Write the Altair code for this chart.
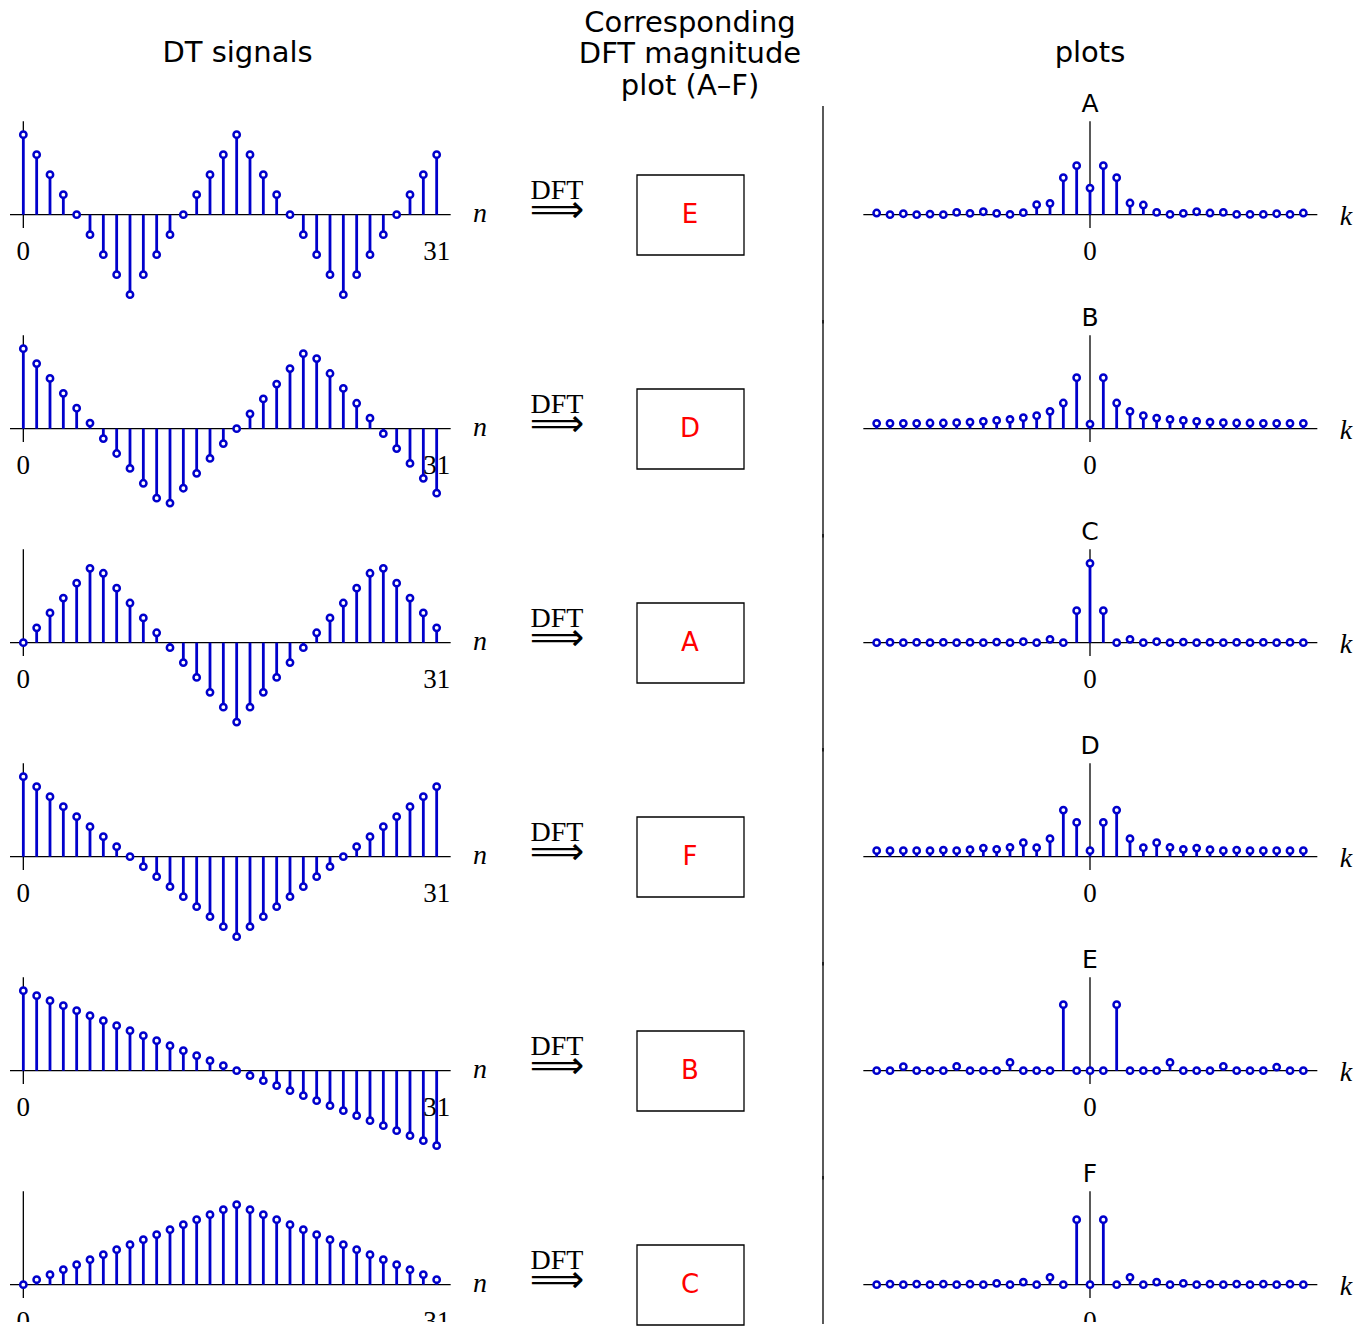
import altair as alt
import pandas as pd

# ---------------- data ----------------
n_vals = list(range(32))
k_vals = list(range(-16, 17))

sig1 = [1, .75, .5, .25, 0, -.25, -.5, -.75, -1, -.75, -.5, -.25, 0, .25, .5, .75,
        1, .75, .5, .25, 0, -.25, -.5, -.75, -1, -.75, -.5, -.25, 0, .25, .5, .75]
sig2 = [1.0, 0.814, 0.628, 0.442, 0.256, 0.07, -0.124, -0.31, -0.496, -0.682, -0.868, -0.93,
        -0.744, -0.558, -0.372, -0.186, 0.0, 0.186, 0.372, 0.558, 0.752, 0.938, 0.876, 0.69,
        0.504, 0.318, 0.132, -0.062, -0.248, -0.434, -0.62, -0.806]
sig3 = [0, .186, .372, .558, .744, .93, .868, .682, .496, .31, .124, -.062, -.248, -.434, -.62, -.806,
        -.992, -.806, -.62, -.434, -.248, -.062, .124, .31, .496, .682, .868, .93, .744, .558, .372, .186]
sig4 = [1, .875, .75, .625, .5, .375, .25, .125, 0, -.125, -.25, -.375, -.5, -.625, -.75, -.875,
        -1, -.875, -.75, -.625, -.5, -.375, -.25, -.125, 0, .125, .25, .375, .5, .625, .75, .875]
sig5 = [1, .9375, .875, .8125, .75, .6875, .625, .5625, .5, .4375, .375, .3125, .25, .1875, .125, .0625,
        0, -.0625, -.125, -.1875, -.25, -.3125, -.375, -.4375, -.5, -.5625, -.625, -.6875, -.75, -.8125, -.875, -.9375]
sig6 = [0, .0625, .125, .1875, .25, .3125, .375, .4375, .5, .5625, .625, .6875, .75, .8125, .875, .9375,
        1, .9375, .875, .8125, .75, .6875, .625, .5625, .5, .4375, .375, .3125, .25, .1875, .125, .0625]
signals = [sig1, sig2, sig3, sig4, sig5, sig6]

answers = ["E", "D", "A", "F", "B", "C"]
dft_labels = ["A", "B", "C", "D", "E", "F"]

magA = [0.021, 0.0, 0.012, 0.0, 0.008, 0.0, 0.029, 0.017, 0.037, 0.017, 0.004, 0.025, 0.125, 0.142, 0.462, 0.613,
        0.333, 0.613, 0.462, 0.146, 0.121, 0.029, 0.004, 0.017, 0.037, 0.021, 0.029, 0.004, 0.004, 0.004, 0.012, 0.004, 0.021]
magB = [0.067, 0.067, 0.067, 0.067, 0.071, 0.071, 0.075, 0.083, 0.092, 0.104, 0.117, 0.138, 0.162, 0.217, 0.321, 0.637,
        0.058, 0.637, 0.321, 0.217, 0.162, 0.133, 0.117, 0.104, 0.092, 0.083, 0.075, 0.071, 0.071, 0.067, 0.067, 0.067, 0.067]
magC = [0, 0.004, 0, 0.004, 0, 0.004, 0, 0.004, 0, 0.008, 0, 0.012, 0, 0.042, 0, 0.4,
        0.992, 0.4, 0, 0.042, 0, 0.012, 0, 0.008, 0, 0.004, 0, 0.004, 0, 0.004, 0, 0.004, 0]
magD = [0.075, 0.075, 0.075, 0.075, 0.075, 0.083, 0.075, 0.087, 0.108, 0.092, 0.117, 0.175, 0.112, 0.225, 0.583, 0.429,
        0.075, 0.429, 0.583, 0.225, 0.112, 0.175, 0.117, 0.092, 0.108, 0.087, 0.075, 0.083, 0.075, 0.075, 0.075, 0.075, 0.075]
magE = [0, 0, 0.05, 0, 0, 0, 0.054, 0, 0, 0, 0.104, 0, 0, 0, 0.825, 0,
        0, 0, 0.825, 0, 0, 0, 0.104, 0, 0, 0, 0.054, 0, 0, 0, 0.045, 0, 0]
magF = [0, 0.008, 0, 0.008, 0, 0.008, 0, 0.008, 0, 0.017, 0, 0.033, 0, 0.092, 0, 0.8125,
        0, 0.8125, 0, 0.092, 0, 0.033, 0, 0.017, 0, 0.008, 0, 0.008, 0, 0.008, 0, 0.008, 0]
dft_mags = [magA, magB, magC, magD, magE, magF]

left_ticks = [0, 31]
left_tick_labels = ["0", "31"]
right_ticks = [0]
right_tick_labels = ["0"]

header_left = ["DT signals"]
header_mid = ["Corresponding", "DFT magnitude", "plot (A\u2013F)"]
header_right = ["plots"]

# ---------------- layout / style ----------------
BLUE = "#0000cc"
SERIF = "Liberation Serif"
SANS = "DejaVu Sans"
UNIT = 80.0
Y_TOP = 106.7 / UNIT
W_L, W_M, W_R = 492, 323, 535
H_HEAD, H_ROW, H_LAST = 100, 213.4, 144


def one():
    return alt.Chart(pd.DataFrame({"_": [0]}))


def stem_layers(df, xfield, xs, ys):
    stems = alt.Chart(df).mark_rule(color=BLUE, strokeWidth=2.8).encode(
        x=alt.X(f"{xfield}:Q", scale=xs, axis=None),
        y=alt.Y("z:Q", scale=ys, axis=None),
        y2="v:Q",
    )
    pts = alt.Chart(df).mark_point(shape="circle", filled=True, fill="white", stroke=BLUE,
                                   strokeWidth=2.5, size=40, opacity=1).encode(
        x=alt.X(f"{xfield}:Q", scale=xs, axis=None),
        y=alt.Y("v:Q", scale=ys, axis=None),
    )
    return stems, pts


def axes_layers(xs, ys, x0, x1):
    h = one().mark_rule(color="black", strokeWidth=1.3).encode(
        x=alt.XDatum(x0, scale=xs, axis=None), x2=alt.X2Datum(x1),
        y=alt.YDatum(0, scale=ys, axis=None))
    v = one().mark_rule(color="black", strokeWidth=1.3).encode(
        x=alt.XDatum(0, scale=xs, axis=None),
        y=alt.YDatum(-0.167, scale=ys, axis=None), y2=alt.Y2Datum(1.167))
    return h, v


def left_panel(sig, h):
    xs = alt.Scale(domain=[-1.15, 35.75], nice=False, zero=False)
    ys = alt.Scale(domain=[Y_TOP - h / UNIT, Y_TOP], nice=False, zero=False)
    df = pd.DataFrame({"n": n_vals, "v": sig, "z": 0.0})
    ah, av = axes_layers(xs, ys, -1.0, 32.05)
    stems, pts = stem_layers(df, "n", xs, ys)
    ticks = alt.Chart(pd.DataFrame({"n": left_ticks, "lab": left_tick_labels})).mark_text(
        font=SERIF, fontSize=27, baseline="alphabetic", align="center", clip=True, color="black"
    ).encode(x=alt.X("n:Q", scale=xs, axis=None), y=alt.YDatum(-0.566, scale=ys, axis=None), text="lab:N")
    nlab = one().mark_text(text="n", font=SERIF, fontStyle="italic", fontSize=28,
                           baseline="alphabetic", align="center", color="black").encode(
        x=alt.XDatum(34.25, scale=xs, axis=None), y=alt.YDatum(-0.09, scale=ys, axis=None))
    return alt.layer(ah, av, stems, pts, ticks, nlab).properties(width=W_L, height=h)


def mid_panel(ans, h):
    dft = one().mark_text(text="DFT", font=SERIF, fontSize=28, baseline="middle", align="center",
                          color="black").encode(x=alt.value(57), y=alt.value(83))
    arrow = one().mark_text(text="\u27f9", font=SANS, fontSize=38, baseline="middle", align="center",
                            color="black").encode(x=alt.value(57), y=alt.value(103))
    box = one().mark_rect(fill="white", stroke="black", strokeWidth=1.3).encode(
        x=alt.value(137), x2=alt.value(244), y=alt.value(67), y2=alt.value(147))
    letter = alt.Chart(pd.DataFrame({"a": [ans]})).mark_text(
        font=SANS, fontSize=26, baseline="middle", align="center", color="#ff0000"
    ).encode(x=alt.value(190), y=alt.value(107), text="a:N")
    return alt.layer(dft, arrow, box, letter).properties(width=W_M, height=h)


def right_panel(mag, lab, h):
    xs = alt.Scale(domain=[-20.025, 20.1], nice=False, zero=False)
    ys = alt.Scale(domain=[Y_TOP - h / UNIT, Y_TOP], nice=False, zero=False)
    df = pd.DataFrame({"k": k_vals, "v": mag, "z": 0.0})
    ah, av = axes_layers(xs, ys, -17.0, 17.05)
    stems, pts = stem_layers(df, "k", xs, ys)
    ticks = alt.Chart(pd.DataFrame({"k": right_ticks, "lab": right_tick_labels})).mark_text(
        font=SERIF, fontSize=27, baseline="alphabetic", align="center", clip=True, color="black"
    ).encode(x=alt.X("k:Q", scale=xs, axis=None), y=alt.YDatum(-0.566, scale=ys, axis=None), text="lab:N")
    klab = one().mark_text(text="k", font=SERIF, fontStyle="italic", fontSize=28,
                           baseline="alphabetic", align="center", color="black").encode(
        x=alt.XDatum(19.2, scale=xs, axis=None), y=alt.YDatum(-0.13, scale=ys, axis=None))
    title = alt.Chart(pd.DataFrame({"k": [0], "lab": [lab]})).mark_text(
        font=SANS, fontSize=25, baseline="middle", align="center", color="black"
    ).encode(x=alt.X("k:Q", scale=xs, axis=None), y=alt.YDatum(1.383, scale=ys, axis=None), text="lab:N")
    sep = one().mark_rule(color="black", strokeWidth=1.3).encode(
        x=alt.value(0), y=alt.value(-2), y2=alt.value(h + 2))
    return alt.layer(sep, ah, av, stems, pts, ticks, klab, title).properties(width=W_R, height=h)


def header_cell(texts, x, ys, w):
    layers = []
    for t, y in zip(texts, ys):
        layers.append(one().mark_text(text=t, font=SANS, fontSize=29, baseline="middle",
                                      align="center", color="black").encode(
            x=alt.value(x), y=alt.value(y)))
    return alt.layer(*layers).properties(width=w, height=H_HEAD)


cells = [
    header_cell(header_left, 229.5, [45], W_L),
    header_cell(header_mid, 190, [15, 46, 78], W_M),
    header_cell(header_right, 267, [45], W_R),
]
for i in range(6):
    h = H_ROW if i < 5 else H_LAST
    cells += [left_panel(signals[i], h), mid_panel(answers[i], h),
              right_panel(dft_mags[i], dft_labels[i], h)]

chart = alt.concat(*cells, columns=3, spacing=0, bounds="flush").properties(
    padding=0, background="white"
).configure_view(stroke=None)

chart.save("out.html", embed_options={"renderer": "svg", "actions": False})
